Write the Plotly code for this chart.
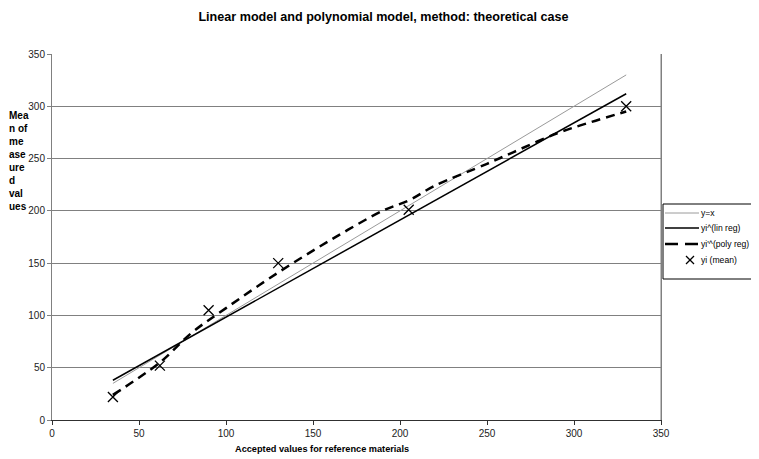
import plotly.graph_objects as go

# data
x_mean = [35, 62, 90, 130, 205, 330]
y_mean = [22, 52, 105, 150, 201, 300]

x_ident = [35, 330]
y_ident = [35, 330]

x_lin = [35, 330]
y_lin = [38, 312]

x_poly = [35, 62, 80, 100, 130, 160, 190, 205, 220, 250, 265, 290, 310, 330]
y_poly = [24, 55, 83, 107, 141, 172, 200, 210, 224, 245, 256, 274, 285, 295]

legend_names = ["y=x", "yi^(lin reg)", "yi'^(poly reg)", "yi (mean)"]

font = "Liberation Sans, Arial, sans-serif"

# plot area in window pixels (page has an 8px body offset)
PX0, PX1, PY0, PY1 = 52, 661, 420, 54


def px(x):
    return (x - PX0) / (PX1 - PX0)


def py(y):
    return (PY0 - y) / (PY0 - PY1)


ident_line = dict(color="#9a9a9a", width=1)
lin_line = dict(color="black", width=1.5)
poly_line = dict(color="black", width=2.5, dash="9px,6px")

fig = go.Figure()
fig.add_trace(go.Scatter(x=x_ident, y=y_ident, mode="lines", line=ident_line))
fig.add_trace(go.Scatter(x=x_lin, y=y_lin, mode="lines", line=lin_line))
fig.add_trace(go.Scatter(x=x_poly, y=y_poly, mode="lines", line=poly_line,
                         line_shape="spline"))
fig.add_trace(go.Scatter(x=x_mean, y=y_mean, mode="markers",
                         marker=dict(symbol="x-thin-open", size=10, color="black",
                                     line=dict(color="black", width=1.3))))

annotations = [
    dict(text="<b>Accepted values for reference materials</b>", xref="paper",
         yref="paper", x=px(322), y=py(449), xanchor="center", yanchor="middle",
         showarrow=False, font=dict(size=9.2)),
    dict(text="<b>Mea<br>n of<br>me<br>ase<br>ure<br>d<br>val<br>ues</b>",
         xref="paper", yref="paper", x=px(7), y=py(108), xanchor="left",
         yanchor="top", align="left", showarrow=False, font=dict(size=10)),
]
shapes = [
    # right border of the plot area
    dict(type="line", xref="paper", yref="paper", x0=1, x1=1, y0=0, y1=1,
         line=dict(color="#808080", width=1)),
    # legend box
    dict(type="rect", xref="paper", yref="paper", x0=px(663), x1=px(760),
         y0=py(279), y1=py(204), line=dict(color="black", width=1),
         fillcolor="white", layer="above"),
]

# manual legend, matching the compact spreadsheet style
item_y = [213, 228, 244, 260]
for name, yy, ln in zip(legend_names[:3], item_y, [ident_line, lin_line, poly_line]):
    sample = dict(ln)
    if "dash" in sample:
        sample["dash"] = "13px,7px"
    shapes.append(dict(type="line", xref="paper", yref="paper", x0=px(665), x1=px(699),
                       y0=py(yy), y1=py(yy), line=sample, layer="above"))
for name, yy in zip(legend_names, item_y):
    annotations.append(dict(text=name, xref="paper", yref="paper", x=px(699), y=py(yy),
                            xanchor="left", yanchor="middle", showarrow=False,
                            font=dict(size=8.6)))
# cross marker sample
for a, b in [(-4, -4), (-4, 4)]:
    shapes.append(dict(type="line", xref="paper", yref="paper",
                       x0=px(690 + a), x1=px(690 - a), y0=py(item_y[3] + b),
                       y1=py(item_y[3] - b), line=dict(color="black", width=1.3),
                       layer="above"))

fig.update_layout(
    width=751, height=451,
    autosize=False,
    showlegend=False,
    paper_bgcolor="white", plot_bgcolor="white",
    font=dict(family=font, size=10, color="black"),
    title=dict(text="<b>Linear model and polynomial model, method: theoretical case</b>",
               x=0.5, xanchor="center", y=0.98, yanchor="middle",
               font=dict(size=12.6)),
    margin=dict(l=PX0 - 8, r=759 - PX1, t=PY1 - 8, b=459 - PY0, autoexpand=False),
    xaxis=dict(range=[0, 350], dtick=50, showgrid=False, zeroline=False,
               showline=True, linecolor="#303030", linewidth=1,
               ticks="outside", ticklen=4, tickcolor="#303030",
               tickfont=dict(size=10, color="#222")),
    yaxis=dict(range=[0, 350], dtick=50, showgrid=True, gridcolor="#808080",
               gridwidth=1, zeroline=False,
               showline=True, linecolor="#808080", linewidth=1, mirror=True,
               ticks="outside", ticklen=4, tickcolor="#808080",
               tickfont=dict(size=10, color="#222")),
    annotations=annotations,
    shapes=shapes,
)

fig.write_html("out.html")
